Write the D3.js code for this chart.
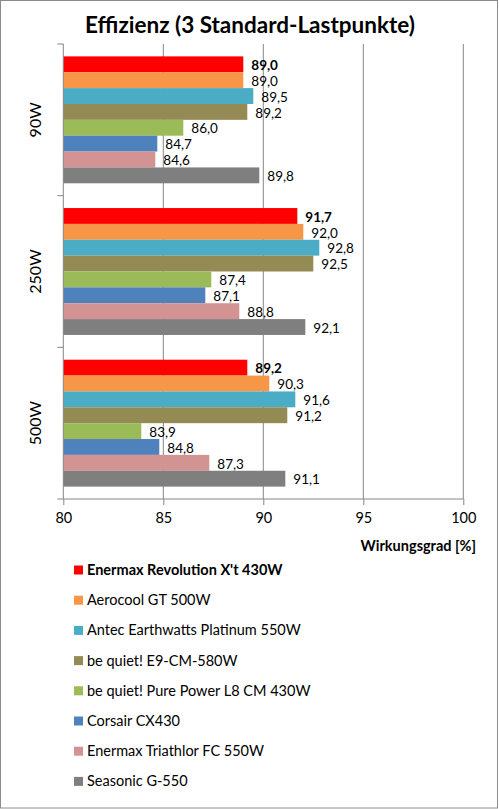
<!DOCTYPE html>
<html>
<head>
<meta charset="utf-8">
<script src="https://cdn.jsdelivr.net/npm/d3@7"></script>
<style>
  body { margin: 0; background: #fff; }
  text { font-family: Lato, "Open Sans", sans-serif; }
</style>
</head>
<body>
<div id="chart"></div>
<script>
var categories = ["90W", "250W", "500W"]
var series = [
    "Enermax Revolution X't 430W",
    "Aerocool GT 500W",
    "Antec Earthwatts Platinum 550W",
    "be quiet! E9-CM-580W",
    "be quiet! Pure Power L8 CM 430W",
    "Corsair CX430",
    "Enermax Triathlor FC 550W",
    "Seasonic G-550"
]
var colors = ["#ff0000", "#f79646", "#4bacc6", "#948a54", "#9bbb59", "#4f81bd", "#d39392", "#7f7f7f"]
// one row per series, values for 90W / 250W / 500W
var values = [
    [89.0, 91.7, 89.2],
    [89.0, 92.0, 90.3],
    [89.5, 92.8, 91.6],
    [89.2, 92.5, 91.2],
    [86.0, 87.4, 83.9],
    [84.7, 87.1, 84.8],
    [84.6, 88.8, 87.3],
    [89.8, 92.1, 91.1]
]
var xTicks = [80, 85, 90, 95, 100]

var W = 499, H = 809
var pLeft = 63.3, pRight = 463.3, pTop = 44, pBottom = 499
var fmt = d => d3.format(".1f")(d).replace(".", ",")

var svg = d3.select("#chart").append("svg")
    .attr("width", W)
    .attr("height", H)

svg.append("rect")
    .attr("x", 0.5).attr("y", 0.5)
    .attr("width", W - 2).attr("height", H - 1.5)
    .attr("fill", "#fff")
    .attr("stroke", "#8c8c8c")

svg.append("text")
    .text("Effizienz (3 Standard-Lastpunkte)")
    .attr("x", 250)
    .attr("y", 33)
    .attr("text-anchor", "middle")
    .style("font-size", "22.5px")
    .style("font-weight", 700)

var x = d3.scaleLinear().domain([80, 100]).range([pLeft, pRight])
var y0 = d3.scaleBand().domain(categories).range([pTop, pBottom]).paddingInner(0).paddingOuter(0)
var y1 = d3.scaleBand().domain(d3.range(series.length)).range([0, y0.bandwidth()]).paddingOuter(0.78)

// gridlines
svg.append("g").selectAll("line")
    .data(xTicks.slice(1))
    .enter().append("line")
    .attr("x1", d => x(d)).attr("x2", d => x(d))
    .attr("y1", pTop).attr("y2", pBottom)
    .attr("stroke", "#868686")

// bars
var groups = svg.append("g").selectAll("g")
    .data(categories)
    .enter().append("g")
    .attr("transform", d => "translate(0," + y0(d) + ")")

groups.selectAll("rect")
    .data((c, ci) => values.map((v, si) => ({ s: si, v: v[ci] })))
    .enter().append("rect")
    .attr("x", x(80))
    .attr("y", d => y1(d.s))
    .attr("width", d => x(d.v) - x(80))
    .attr("height", y1.bandwidth())
    .attr("fill", d => colors[d.s])

groups.selectAll("text")
    .data((c, ci) => values.map((v, si) => ({ s: si, v: v[ci] })))
    .enter().append("text")
    .text(d => fmt(d.v))
    .attr("x", d => x(d.v) + 8)
    .attr("y", d => y1(d.s) + y1.bandwidth() / 2 + 1)
    .attr("dy", "0.35em")
    .style("font-size", "13.5px")
    .style("font-weight", d => d.s == 0 ? 700 : 400)

// x axis
var xAxis = svg.append("g")
    .attr("transform", "translate(0," + pBottom + ")")
    .call(d3.axisBottom(x).tickValues(xTicks).tickSize(6).tickPadding(8))
xAxis.select(".domain").attr("stroke", "#868686").attr("d", "M" + pLeft + ",0H" + pRight)
xAxis.selectAll(".tick line").attr("stroke", "#868686")
xAxis.selectAll(".tick text").style("font-size", "14.5px").style("font-family", "Lato, sans-serif").attr("fill", "#000")

// y axis
var yAxis = svg.append("g")
    .attr("transform", "translate(" + pLeft + ",0)")
yAxis.append("line")
    .attr("x1", 0).attr("x2", 0)
    .attr("y1", pTop).attr("y2", pBottom)
    .attr("stroke", "#868686")
yAxis.selectAll(".ctick")
    .data(categories.map(c => y0(c)).concat([pBottom]))
    .enter().append("line")
    .attr("x1", -6).attr("x2", 0)
    .attr("y1", d => d).attr("y2", d => d)
    .attr("stroke", "#868686")
yAxis.selectAll(".clabel")
    .data(categories)
    .enter().append("text")
    .text(d => d)
    .attr("transform", d => "translate(-28," + (y0(d) + y0.bandwidth() / 2) + ") rotate(-90)")
    .attr("text-anchor", "middle")
    .attr("dy", "0.35em")
    .style("font-size", "16px")

svg.append("text")
    .text("Wirkungsgrad [%]")
    .attr("x", 476)
    .attr("y", 551)
    .attr("text-anchor", "end")
    .style("font-size", "14.5px")
    .style("font-weight", 700)

// legend
var legend = svg.append("g").selectAll("g")
    .data(series)
    .enter().append("g")
    .attr("transform", (d, i) => "translate(74," + (570 + i * 30.2) + ")")

legend.append("rect")
    .attr("x", 0).attr("y", -4.5)
    .attr("width", 9).attr("height", 9)
    .attr("fill", (d, i) => colors[i])

legend.append("text")
    .text(d => d)
    .attr("x", 13)
    .attr("dy", "0.35em")
    .style("font-size", "14.5px")
    .style("font-weight", (d, i) => i == 0 ? 700 : 400)
</script>
</body>
</html>
